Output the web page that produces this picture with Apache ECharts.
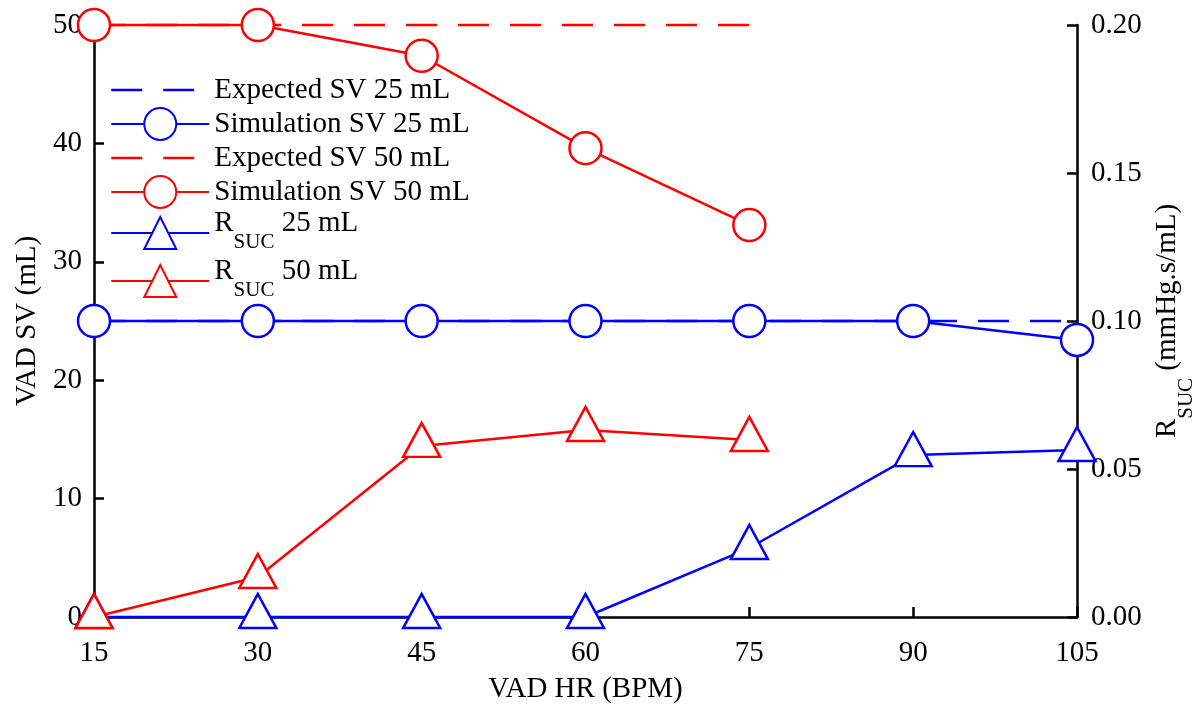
<!DOCTYPE html>
<html><head><meta charset="utf-8">
<script src="https://cdn.jsdelivr.net/npm/echarts@6/dist/echarts.min.js"></script>
<style>html,body{margin:0;padding:0;background:#fff}#c{width:1202px;height:708px}</style>
</head><body><div id="c"></div>
<script>
// ---- data ----
const hr = [15, 30, 45, 60, 75, 90, 105];
const hr50 = [15, 30, 45, 60, 75];
const expected25 = [25, 25, 25, 25, 25, 25, 25];
const sim25 = [25, 25, 25, 25, 25, 25, 23.4];
const expected50 = [50, 50, 50, 50, 50];
const sim50 = [50, 50, 47.4, 39.6, 33.1];
const rsuc25 = [0, 0, 0, 0, 0.0233, 0.0547, 0.0564];
const rsuc50 = [0, 0.0135, 0.0578, 0.0632, 0.0598];
const names = ['Expected SV 25 mL', 'Simulation SV 25 mL', 'Expected SV 50 mL', 'Simulation SV 50 mL', 'RSUC 25 mL', 'RSUC 50 mL'];

const FONT = "'Liberation Serif', 'Times New Roman', serif";
const FS = 29;
const BLUE = '#0000ff', RED = '#ff0000';
const DASH = [31, 21];
const pair = (xs, ys) => xs.map((x, i) => [x, ys[i]]);

const rich = {
  r: { fontSize: FS, fontFamily: FONT, color: '#000', lineHeight: 28, padding: [0, 0, 19, 0] },
  s: { fontSize: 21, fontFamily: FONT, color: '#000', lineHeight: 22, padding: [19, 0, 0, 0] }
};

function lineSeries(name, data, color, opts) {
  return Object.assign({
    name: name, type: 'line', data: data, clip: false,
    lineStyle: { color: color, width: 2.5 },
    itemStyle: { color: '#fff', borderColor: color, borderWidth: 2.5 },
    emphasis: { disabled: true }, animation: false
  }, opts);
}

const axisCommon = {
  type: 'value',
  axisLine: { show: true, lineStyle: { color: '#000', width: 2.5 } },
  axisTick: { show: true, inside: true, length: 10, lineStyle: { color: '#000', width: 2.5 } },
  splitLine: { show: false },
  axisLabel: { fontSize: FS, fontFamily: FONT, color: '#000' },
  nameTextStyle: { fontSize: FS, fontFamily: FONT, color: '#000' }
};

function dashedLegend(name, color) {
  return {
    name: name,
    itemStyle: { color: 'transparent', borderColor: 'transparent', opacity: 0 },
    lineStyle: { color: color, width: 2.5, type: DASH }
  };
}

const option = {
  backgroundColor: '#fff',
  animation: false,
  grid: { left: 94, right: 125, top: 25, bottom: 91, containLabel: false, outerBoundsMode: 'none' },
  legend: {
    left: 105, top: 68, orient: 'vertical',
    itemWidth: 98, itemHeight: 40, itemGap: 0,
    data: [
      dashedLegend(names[0], BLUE),
      { name: names[1] },
      dashedLegend(names[2], RED),
      { name: names[3] },
      { name: names[4] },
      { name: names[5] }
    ],
    formatter: function (n) {
      if (n.indexOf('RSUC') === 0) return '{r|R}{s|SUC}{r| ' + n.slice(5) + '}';
      return n;
    },
    textStyle: { fontSize: FS, fontFamily: FONT, color: '#000', rich: rich }
  },
  xAxis: Object.assign({}, axisCommon, {
    min: 15, max: 105, interval: 15,
    name: 'VAD HR (BPM)', nameLocation: 'middle', nameGap: 58,
    axisLabel: Object.assign({}, axisCommon.axisLabel, { margin: 22 })
  }),
  yAxis: [
    Object.assign({}, axisCommon, {
      min: 0, max: 50, interval: 10, position: 'left',
      name: 'VAD SV (mL)', nameLocation: 'middle', nameGap: 44,
      axisLabel: Object.assign({}, axisCommon.axisLabel, { margin: 12 })
    }),
    Object.assign({}, axisCommon, {
      min: 0, max: 0.2, interval: 0.05, position: 'right',
      name: '{r|R}{s|SUC}{r| (mmHg.s/mL)}', nameLocation: 'middle', nameGap: 68,
      nameTextStyle: { fontSize: FS, fontFamily: FONT, color: '#000', rich: rich },
      axisLabel: Object.assign({}, axisCommon.axisLabel, { margin: 14, formatter: v => v.toFixed(2) })
    })
  ],
  series: [
    lineSeries(names[0], pair(hr, expected25), BLUE, { symbol: 'none', lineStyle: { color: BLUE, width: 2.5, type: DASH } }),
    lineSeries(names[1], pair(hr, sim25), BLUE, { symbol: 'circle', symbolSize: 32 }),
    lineSeries(names[2], pair(hr50, expected50), RED, { symbol: 'none', lineStyle: { color: RED, width: 2.5, type: DASH } }),
    lineSeries(names[3], pair(hr50, sim50), RED, { symbol: 'circle', symbolSize: 32 }),
    lineSeries(names[4], pair(hr, rsuc25), BLUE, { yAxisIndex: 1, symbol: 'triangle', symbolSize: [37, 34], symbolOffset: [0, -6] }),
    lineSeries(names[5], pair(hr50, rsuc50), RED, { yAxisIndex: 1, symbol: 'triangle', symbolSize: [37, 34], symbolOffset: [0, -6] })
  ]
};
const chart = echarts.init(document.getElementById('c'), null, { renderer: 'canvas' });
chart.setOption(option);
</script>
</body></html>
